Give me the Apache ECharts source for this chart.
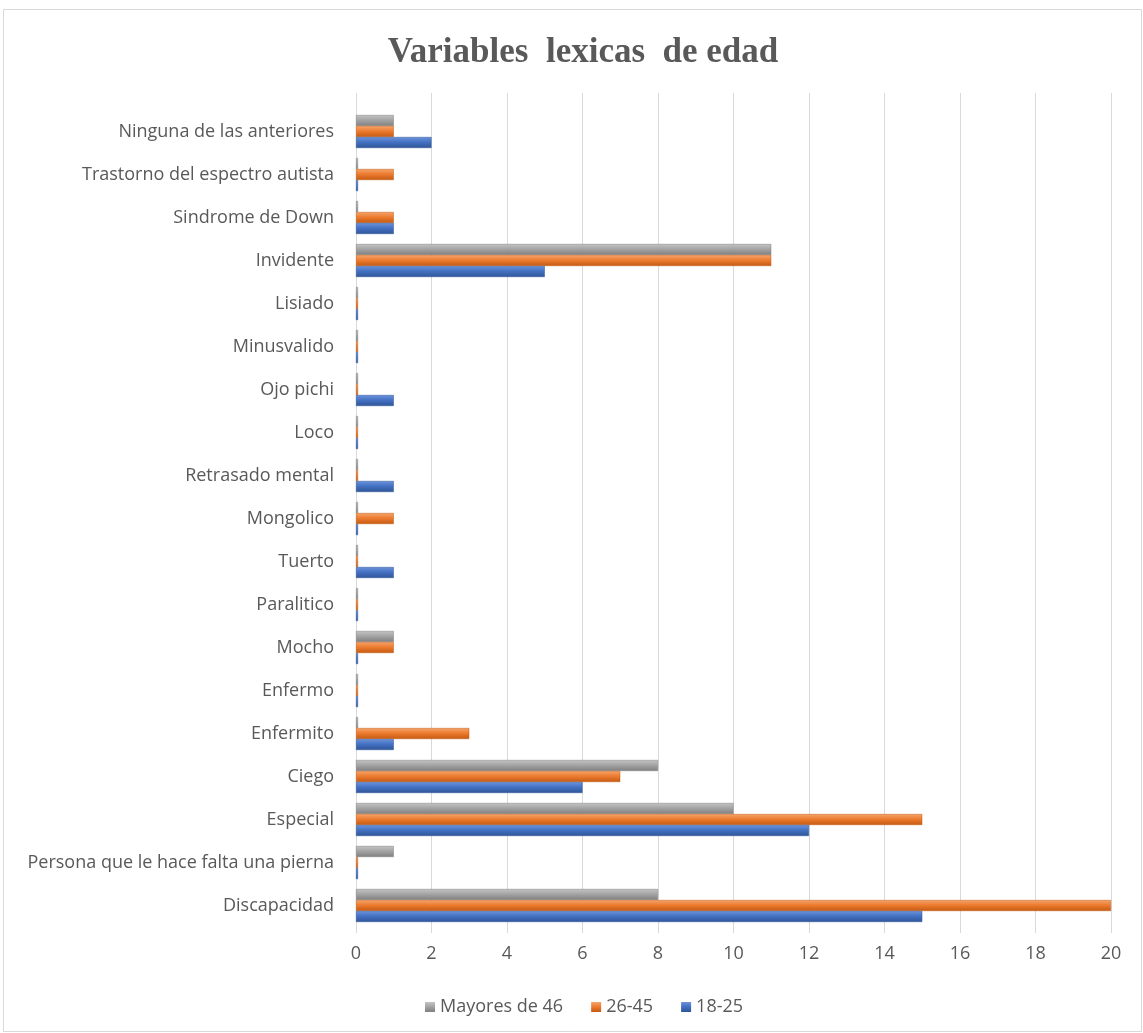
<!DOCTYPE html>
<html>
<head>
<meta charset="utf-8">
<script src="https://cdn.jsdelivr.net/npm/echarts@6/dist/echarts.min.js"></script>
<style>html,body{margin:0;padding:0;background:#fff}#c{width:1143px;height:1033px}</style>
</head>
<body>
<div id="c"></div>
<script>
var categories = ["Discapacidad","Persona que le hace falta una pierna","Especial","Ciego","Enfermito","Enfermo","Mocho","Paralitico","Tuerto","Mongolico","Retrasado mental","Loco","Ojo pichi","Minusvalido","Lisiado","Invidente","Sindrome de Down","Trastorno del espectro autista","Ninguna de las anteriores"];
var s18_25 = [15,0,12,6,1,0,0,0,1,0,1,0,1,0,0,5,1,0,2];
var s26_45 = [20,0,15,7,3,0,1,0,0,1,0,0,0,0,0,11,1,1,1];
var sMayores = [8,1,10,8,0,0,1,0,0,0,0,0,0,0,0,11,0,0,1];
var xTicks = [0,2,4,6,8,10,12,14,16,18,20];

var FONT = "'Open Sans', 'Noto Sans', sans-serif";
function grad(light, base, dark){
  return new echarts.graphic.LinearGradient(0,0,0,1,[
    {offset:0,color:light},{offset:0.45,color:base},{offset:1,color:dark}
  ]);
}
var chart = echarts.init(document.getElementById('c'));
function mk(name, data, light, base, dark){
  return {
    name:name, type:'bar', data:data, barWidth:11, barGap:'0%', barMinHeight:2,
    xAxisIndex:0, yAxisIndex:0,
    itemStyle:{color:grad(light,base,dark), borderColor:dark, borderWidth:0.5},
    emphasis:{disabled:true}
  };
}
chart.setOption({
  animation:false,
  backgroundColor:'#fff',
  color:['#A5A5A5','#ED7D31','#4472C4'],
  title:{
    text:'Variables  lexicas  de edad', left:578, textAlign:'center', top:30,
    textStyle:{fontFamily:'Liberation Serif', fontWeight:'bold', fontSize:35, color:'#595959'}
  },
  graphic:[{type:'rect', shape:{x:3.5,y:9.5,width:1138,height:1022}, style:{fill:'none', stroke:'#D9D9D9', lineWidth:1}, silent:true}],
  legend:{
    data:['Mayores de 46','26-45','18-25'], top:993, left:420,
    itemWidth:10, itemHeight:10, itemGap:28, icon:'rect',
    itemStyle:{borderWidth:0},
    textStyle:{fontFamily:FONT, fontSize:18, color:'#595959'}
  },
  grid:[
    {left:356, right:32, top:110, bottom:106},
    {left:356, right:32, top:93, bottom:100}
  ],
  xAxis:[{
    type:'value', min:0, max:20, interval:2, gridIndex:0,
    axisLine:{show:false}, axisTick:{show:false},
    splitLine:{show:false},
    axisLabel:{margin:18, fontFamily:FONT, fontSize:18, color:'#595959',
      formatter:function(v){return xTicks.indexOf(v)>=0?String(v):'';}}
  },{
    type:'value', min:0, max:20, interval:2, gridIndex:1, z:0,
    axisLine:{show:false}, axisTick:{show:false}, axisLabel:{show:false},
    splitLine:{lineStyle:{color:'#D9D9D9', width:1}}
  }],
  yAxis:[{
    type:'category', data:categories, gridIndex:0,
    axisLine:{show:false}, axisTick:{show:false},
    axisLabel:{margin:22, fontFamily:FONT, fontSize:18, color:'#595959'}
  },{
    type:'category', data:categories, gridIndex:1, show:false
  }],
  series:[
    mk('Mayores de 46', sMayores, '#c4c4c4', '#A5A5A5', '#7f7f7f'),
    mk('26-45', s26_45, '#f4a56e', '#ED7D31', '#c55a11'),
    mk('18-25', s18_25, '#6d93da', '#4472C4', '#2f5597')
  ]
});
</script>
</body>
</html>
